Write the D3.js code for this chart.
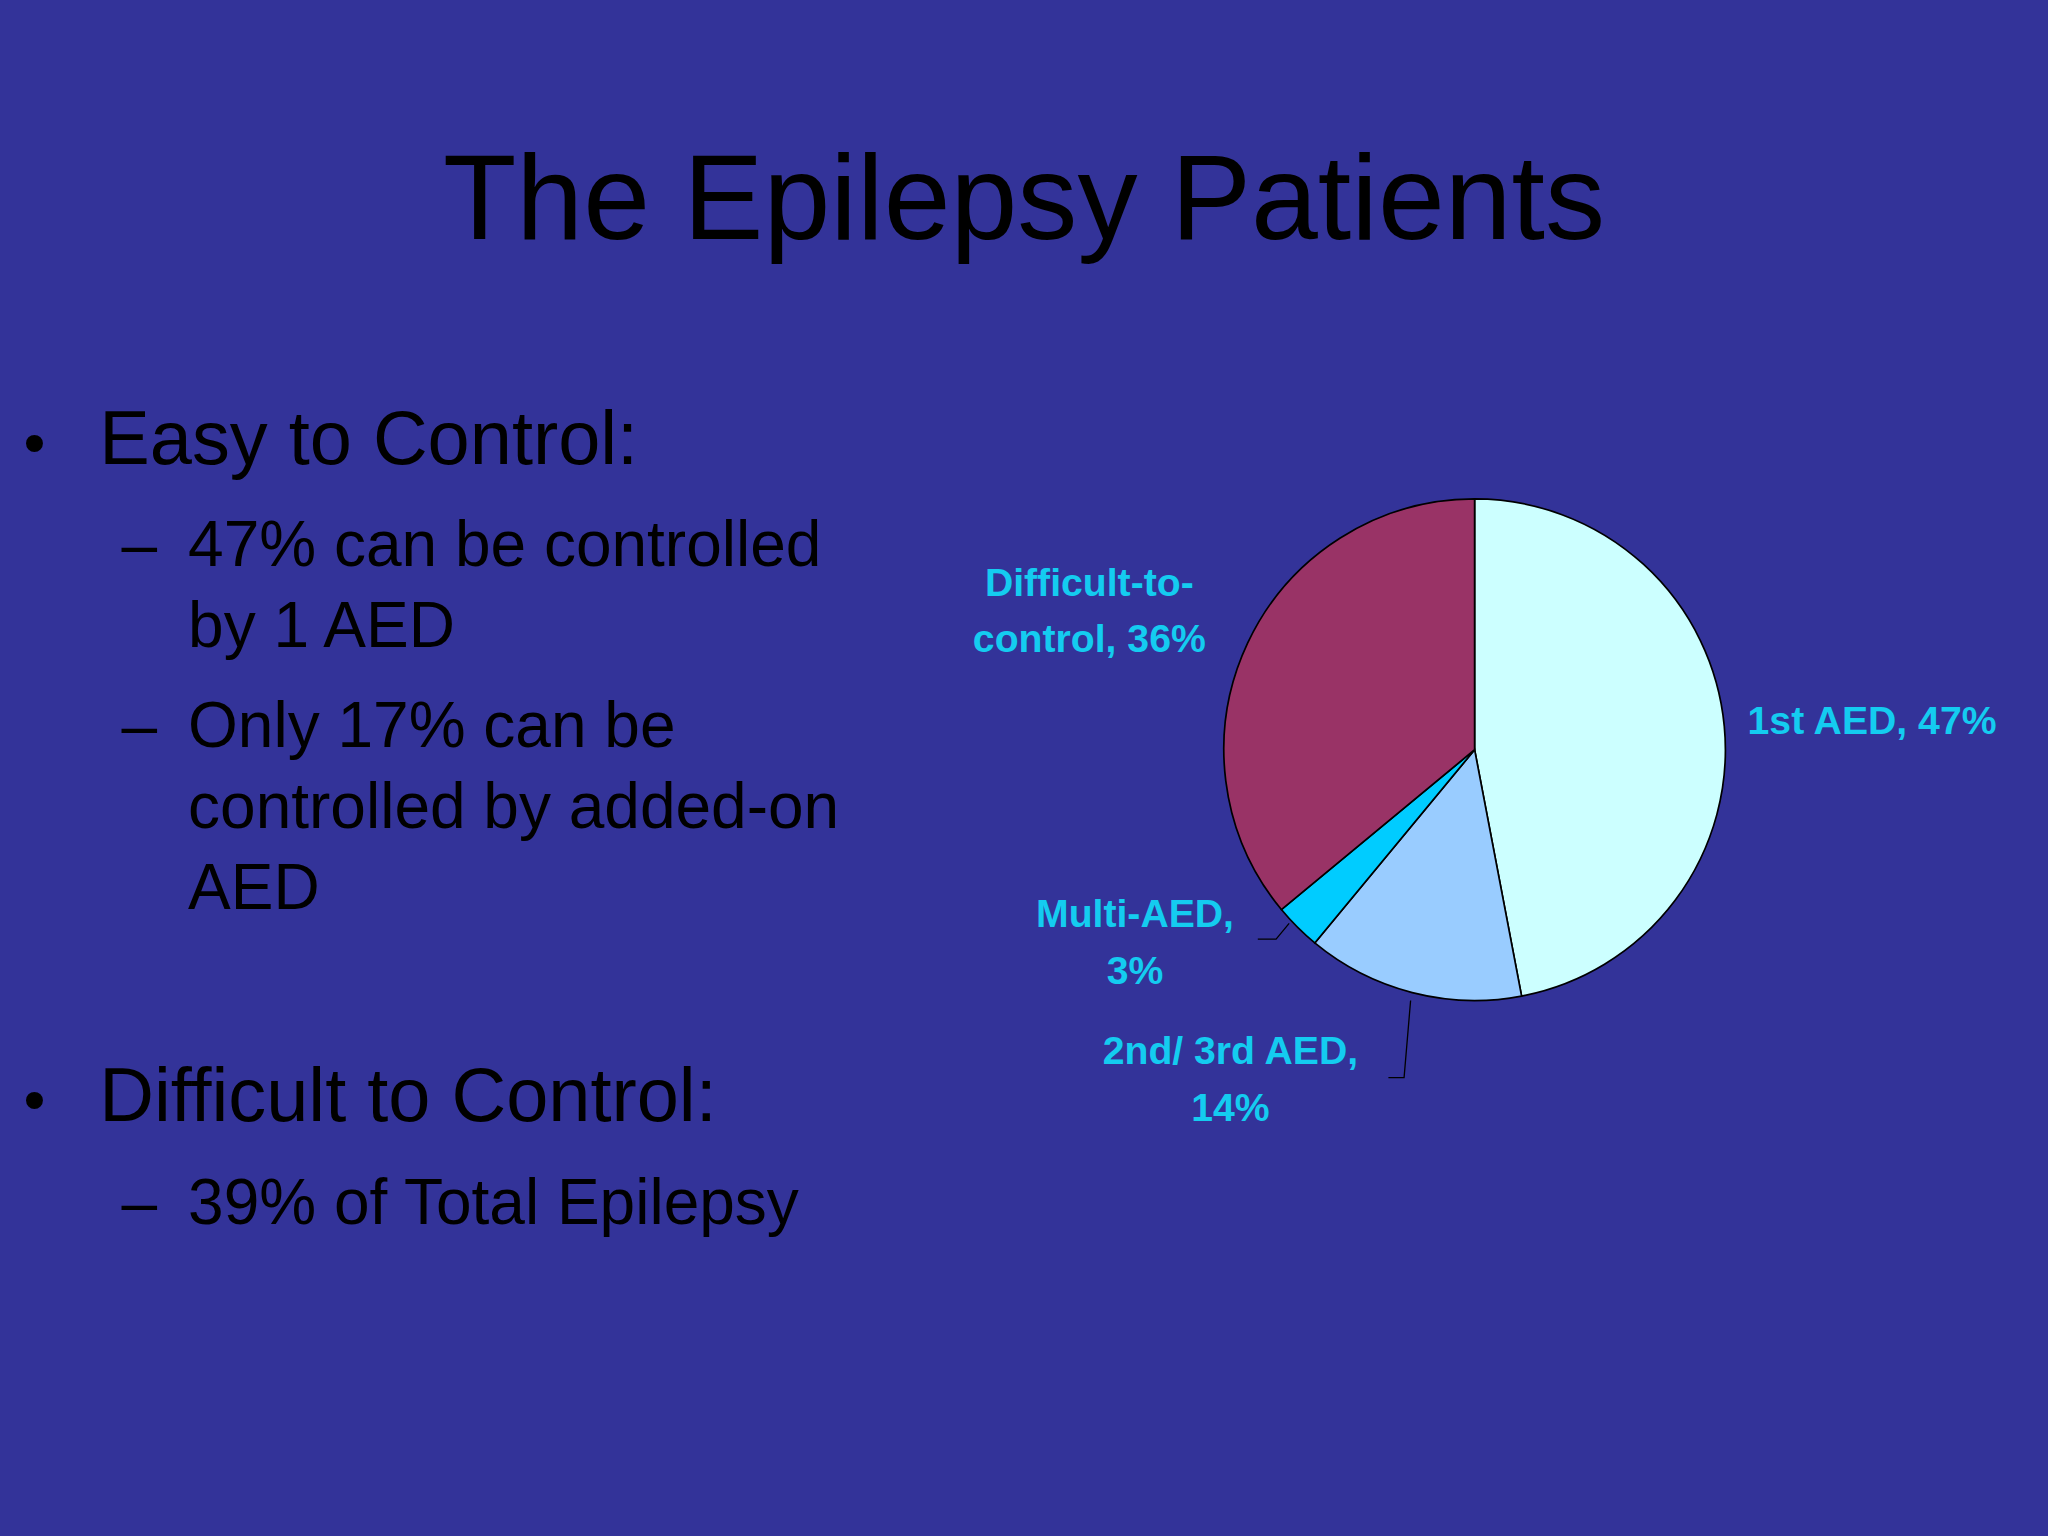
<!DOCTYPE html>
<html><head><meta charset="utf-8">
<script src="https://cdn.jsdelivr.net/npm/d3@7"></script>
<style>body{margin:0;background:#333399;}</style></head>
<body><svg id="c" width="2048" height="1536"></svg>
<script>
const categories = ["1st AED", "2nd/ 3rd AED", "Multi-AED", "Difficult-to-control"];
const values = [47, 14, 3, 36];
const colors = ["#CCFFFF", "#99CCFF", "#00CCFF", "#993366"];
const title = "The Epilepsy Patients";

const s = 2048/1568;
const svg = d3.select("#c");
svg.append("rect").attr("width",2048).attr("height",1536).attr("fill","#333399");
const g = svg.append("g").attr("transform",`scale(${s})`);
const font = "Liberation Sans, Arial, sans-serif";

g.append("text").attr("x",784).attr("y",183).attr("text-anchor","middle")
 .attr("font-family",font).attr("font-size",92).attr("fill","#000").text(title);

const lines = [
 {b:"•", bx:18, x:76, y:355, t:"Easy to Control:", fs:58},
 {b:"–", bx:93, x:144, y:433, t:"47% can be controlled", fs:49},
 {x:144, y:495, t:"by 1 AED", fs:49},
 {b:"–", bx:93, x:144, y:572, t:"Only 17% can be", fs:49},
 {x:144, y:634, t:"controlled by added-on", fs:49},
 {x:144, y:696, t:"AED", fs:49},
 {b:"•", bx:18, x:76, y:858, t:"Difficult to Control:", fs:58},
 {b:"–", bx:93, x:144, y:937, t:"39% of Total Epilepsy", fs:49}
];
lines.forEach(l=>{
  if(l.b) g.append("text").attr("x",l.bx).attr("y",l.y).attr("font-family",font).attr("font-size",l.b==="•"?48:l.fs).attr("fill","#000").text(l.b);
  g.append("text").attr("x",l.x).attr("y",l.y).attr("font-family",font).attr("font-size",l.fs).attr("fill","#000").text(l.t);
});

const cx=1129, cy=574, r=192;
const pie = d3.pie().sort(null).value(d=>d)(values);
const arc = d3.arc().innerRadius(0).outerRadius(r);
const pg = g.append("g").attr("transform",`translate(${cx},${cy})`);
pg.selectAll("path").data(pie).join("path").attr("d",arc)
  .attr("fill",(d,i)=>colors[i]).attr("stroke","#000").attr("stroke-width",1.3);

const lc="#14CCF0";
const labels=[
 {lines:[categories[0]+", "+values[0]+"%"], x:1338, y:562, a:"start"},
 {lines:["2nd/ 3rd AED,", values[1]+"%"], x:942, y:815, a:"middle"},
 {lines:["Multi-AED,", values[2]+"%"], x:869, y:710, a:"middle"},
 {lines:["Difficult-to-", "control, "+values[3]+"%"], x:834, y:456, a:"middle"}
];
labels.forEach(l=>{
  l.lines.forEach((t,j)=>g.append("text").attr("x",l.x).attr("y",l.y+j*43).attr("text-anchor",l.a)
   .attr("font-family",font).attr("font-weight","bold").attr("font-size",30).attr("fill",lc).text(t));
});
g.append("polyline").attr("points","1080,766 1075,825 1063,825").attr("fill","none").attr("stroke","#000").attr("stroke-width",1);
g.append("polyline").attr("points","987,707 977,719 963,719").attr("fill","none").attr("stroke","#000").attr("stroke-width",1);
</script></body></html>
